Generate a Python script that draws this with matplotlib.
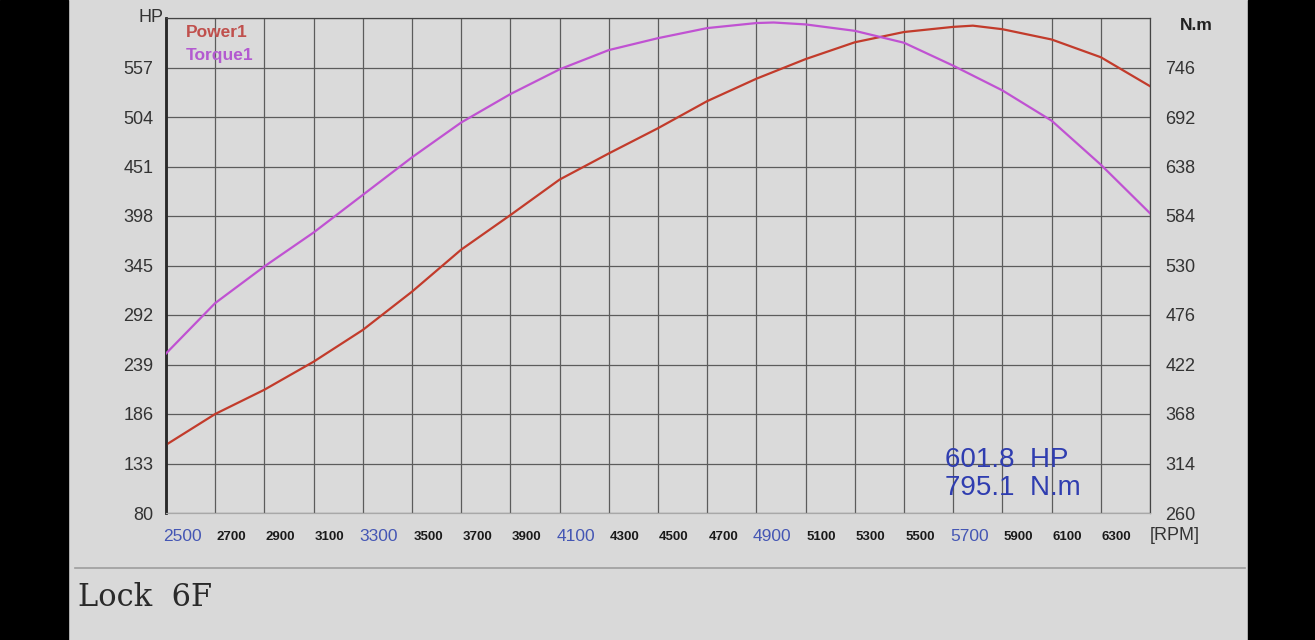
"""
Dyno sheet: power (HP) and torque (N.m) against engine speed, Lock 6F run.
"""

import matplotlib
matplotlib.use("Agg")

import matplotlib.pyplot as plt
import matplotlib.transforms as mtransforms
from matplotlib.lines import Line2D
from matplotlib.patches import Rectangle

# Values
power_rpm = [2500, 2700, 2900, 3100, 3300, 3500, 3700, 3900, 4100, 4300, 4500,
             4700, 4900, 5100, 5300, 5500, 5700, 5780, 5900, 6100, 6300, 6500]
power_hp = [153, 186, 212, 242, 276, 317, 362, 399, 437, 465, 492,
            521, 545, 566, 584, 595, 600.5, 601.8, 598, 587, 568, 537]

torque_rpm = [2500, 2700, 2900, 3100, 3300, 3500, 3700, 3900, 4100, 4300, 4500,
              4700, 4900, 4970, 5100, 5300, 5500, 5700, 5900, 6100, 6300, 6500]
torque_nm = [434, 489, 529, 566, 607, 648, 686, 717, 744, 765, 778,
             789, 794.5, 795.1, 793, 786, 773, 748, 721, 688, 640, 587]

hp_ticks = [80, 133, 186, 239, 292, 345, 398, 451, 504, 557, 610]
nm_ticks = [260, 314, 368, 422, 476, 530, 584, 638, 692, 746, 800]
rpm_ticks = list(range(2500, 6501, 200))
rpm_labels = list(range(2500, 6301, 200))
rpm_big = [2500, 3300, 4100, 4900, 5700]

peak_power = "601.8  HP"
peak_torque = "795.1  N.m"

# Colours
bg = "#d9d9d9"
grid_col = "#5c5c5c"
power_col = "#c23b2b"
torque_col = "#c052d2"
blue = "#4456b4"
peak_blue = "#2f3db0"

plt.rcParams["font.family"] = ["Liberation Sans", "DejaVu Sans"]

fig = plt.figure(figsize=(13.15, 6.4), dpi=100, facecolor=bg)

# black borders of the photographed screen
fig.add_artist(Rectangle((0, 0), 68 / 1315, 1, transform=fig.transFigure,
                         color="black", zorder=-5))
fig.add_artist(Rectangle((1248 / 1315, 0), 67 / 1315, 1, transform=fig.transFigure,
                         color="black", zorder=-5))

ax = fig.add_axes([166 / 1315, 1 - 513 / 640, 984 / 1315, 495 / 640])
ax.set_facecolor("#dadada")
ax2 = ax.twinx()

ax.set_xlim(2500, 6500)
ax.set_ylim(80, 610)
ax2.set_ylim(260, 800)

ax.set_xticks(rpm_ticks)
ax.set_xticklabels([])
ax.set_yticks(hp_ticks)
ax.set_yticklabels([str(v) for v in hp_ticks[:-1]] + [""], fontsize=13, color="#333333")
ax2.set_yticks(nm_ticks)
ax2.set_yticklabels([str(v) for v in nm_ticks[:-1]] + [""], fontsize=13, color="#333333")
ax.tick_params(axis="both", length=0)
ax.tick_params(axis="y", pad=9)
ax2.tick_params(axis="y", length=0, pad=11)

ax.grid(True, color=grid_col, lw=0.9)
ax.set_axisbelow(True)

for a in (ax, ax2):
    a.spines["top"].set_color("#444444")
    a.spines["right"].set_color("#444444")
    a.spines["bottom"].set_color("#a8a8a8")
    a.spines["left"].set_color("#2a2a2a")
    a.spines["left"].set_linewidth(1.8)

ax.plot(power_rpm, power_hp, color=power_col, lw=1.6, zorder=5)
ax2.plot(torque_rpm, torque_nm, color=torque_col, lw=1.6, zorder=5)

# rpm labels under the grid
trans = mtransforms.blended_transform_factory(ax.transData, ax.transAxes)
for r in rpm_labels:
    if r in rpm_big:
        ax.text(r + 65, -0.048, str(r), transform=trans, ha="center", va="center",
                fontsize=12.5, color=blue)
    else:
        ax.text(r + 65, -0.048, str(r), transform=trans, ha="center", va="center",
                fontsize=9.5, color="#1a1a1a", fontweight="bold")
ax.text(1.0254, -0.046, "[RPM]", transform=ax.transAxes, ha="center", va="center",
        fontsize=13, color="#333333")

# axis unit labels
ax.text(-0.003, 1.0, "HP", transform=ax.transAxes, ha="right", va="center",
        fontsize=13, color="#333333")
ax.text(1.0467, 0.984, "N.m", transform=ax.transAxes, ha="center", va="center",
        fontsize=12.5, color="#222222", fontweight="bold")

# series names
ax.text(0.02, 0.970, "Power1", transform=ax.transAxes, ha="left", va="center",
        fontsize=12.5, color="#c0504d", fontweight="bold")
ax.text(0.02, 0.924, "Torque1", transform=ax.transAxes, ha="left", va="center",
        fontsize=12.5, color="#b35ad0", fontweight="bold")

# peak readout
ax.text(0.792, 0.107, peak_power, transform=ax.transAxes, ha="left", va="center",
        fontsize=20, color=peak_blue)
ax.text(0.792, 0.050, peak_torque, transform=ax.transAxes, ha="left", va="center",
        fontsize=20, color=peak_blue)

# separator and run title
fig.add_artist(Line2D([75 / 1315, 1245 / 1315], [1 - 568 / 640, 1 - 568 / 640],
                      transform=fig.transFigure, color="#9e9e9e", lw=1.2))
fig.text(78 / 1315, 1 - 598 / 640, "Lock  6F", ha="left", va="center",
         fontsize=22, family="DejaVu Serif", color="#2a2a2a")

fig.savefig("out.png", dpi=100, facecolor=fig.get_facecolor())
